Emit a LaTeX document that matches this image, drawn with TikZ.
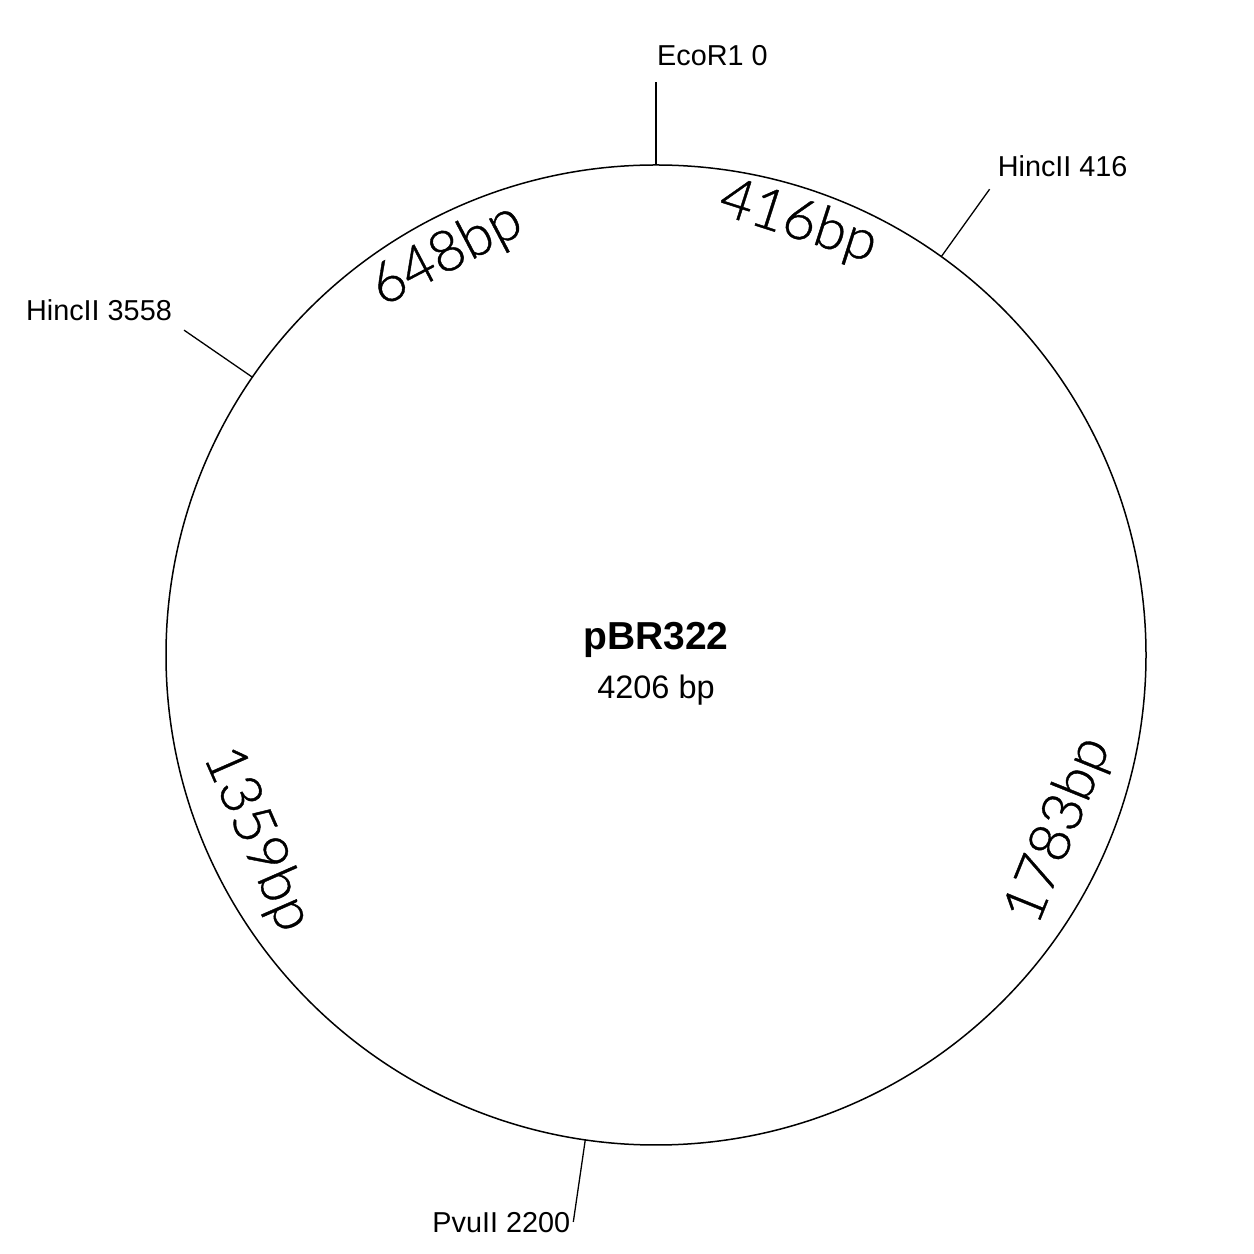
\documentclass[tikz,border=0pt]{standalone}
\usepackage{fontspec}
\setmainfont{Liberation Sans}
\IfFontExistsTF{Lato Light}{\newfontfamily\segfont{Lato Light}[RawFeature={embolden=0.7}]}{\newfontfamily\segfont{Lato}}
\usetikzlibrary{calc}
\tikzset{
  plasmid/.style={line width=1.5pt, draw=black},
  tick/.style={line width=1.3pt, draw=black},
  sitelabel/.style={inner sep=0pt, font=\fontsize{28.8}{30}\selectfont},
  seglabel/.style={inner sep=0pt, font=\segfont\fontsize{57}{60}\selectfont},
}
\begin{document}
\begin{tikzpicture}[x=1pt,y=1pt]
\useasboundingbox (0,0) rectangle (1254,1254);
\fill[white] (0,0) rectangle (1254,1254);
\coordinate (C) at (656,599);
\draw[plasmid] (C) circle[radius=490];
% ticks
\coordinate (s0) at ($(C)+(90:490)$);
\coordinate (t0) at ($(C)+(90:573)$);
\coordinate (s416) at ($(C)+(54.39:490)$);
\coordinate (t416) at ($(C)+(54.39:573)$);
\coordinate (s2200) at ($(C)+(-98.30:490)$);
\coordinate (t2200) at ($(C)+(-98.30:573)$);
\coordinate (s3558) at ($(C)+(145.46:490)$);
\coordinate (t3558) at ($(C)+(145.46:573)$);
\draw[tick] (s0) -- (t0);
\draw[tick] (s416) -- (t416);
\draw[tick] (s2200) -- (t2200);
\draw[tick] (s3558) -- (t3558);
% site labels
\node[sitelabel, anchor=base west] (l0) at ($(t0)+(1,16)$) {EcoR1 0};
\node[sitelabel, anchor=base west] (l416) at ($(t416)+(8,13)$) {HincII 416};
\node[sitelabel, anchor=base east] (l3558) at ($(t3558)+(-12,10)$) {HincII 3558};
\node[sitelabel, anchor=base east] (l2200) at ($(t2200)+(-3,-11)$) {PvuII 2200};
% segment labels
\node[seglabel, rotate=-17.8] (g416) at ($(C)+(71.8:455)$) {416bp};
\node[seglabel, rotate=27.7] (g648) at ($(C)+(117.6:451)$) {648bp};
\node[seglabel, rotate=68] (g1783) at ($(C)+(-23.5:440)$) {1783bp};
\node[seglabel, rotate=-66.4] (g1359) at ($(C)+(-155.2:440)$) {1359bp};
% centre
\node[inner sep=0pt, font=\bfseries\fontsize{39}{41}\selectfont] (name) at (656,614) {pBR322};
\node[inner sep=0pt, font=\fontsize{32.5}{34}\selectfont] (size) at (656,564) {4206 bp};
\end{tikzpicture}
\end{document}
